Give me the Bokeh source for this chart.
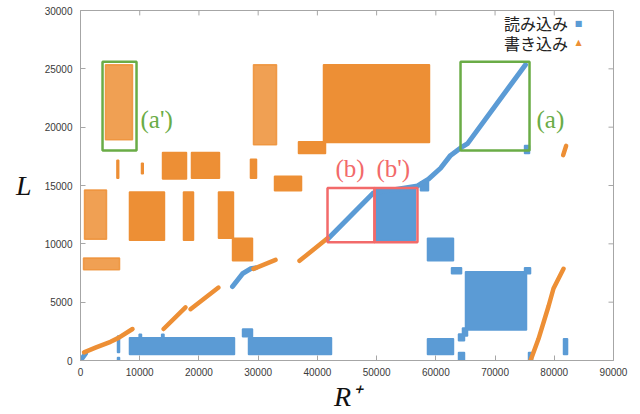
from bokeh.plotting import figure
from bokeh.models import Range1d, FixedTicker, Label
from bokeh.embed import file_html
from bokeh.resources import INLINE

# ---------------- data ----------------
x_ticks = [0, 10000, 20000, 30000, 40000, 50000, 60000, 70000, 80000, 90000]
x_tick_labels = ["0", "10000", "20000", "30000", "40000", "50000", "60000", "70000", "80000", "90000"]
y_ticks = [0, 5000, 10000, 15000, 20000, 25000, 30000]
y_tick_labels = ["0", "5000", "10000", "15000", "20000", "25000", "30000"]
x_title = "R⁺"
y_title = "L"

# read (読み込み) dense regions: x0, x1, y0, y1
read_x0 = [8270, 9900, 13700, 27360, 28370, 58590, 58590, 62650, 65010, 74980, 64500, 63830, 63830, 75650, 81560, 6250, 6250, 49810, 57410, 74980]
read_x1 = [26000, 10300, 14100, 29040, 42380, 62980, 62980, 64340, 75310, 75990, 65350, 64840, 64840, 76330, 82240, 6590, 6590, 56570, 58760, 75820]
read_y0 = [510, 1900, 1900, 2030, 510, 510, 8540, 7440, 2620, 7440, 2110, 1690, 0, 0, 510, 680, 0, 10310, 14540, 17750]
read_y1 = [1940, 2250, 2250, 2700, 1940, 1860, 10480, 7940, 7600, 7940, 2790, 2280, 680, 680, 1860, 2110, 250, 14700, 15300, 18420]

# read sequential runs
read_run_x = [
    [0, 850],
    [25670, 27360, 28700, 29550],
    [41710, 49480, 56910, 58760, 60790, 62480, 64510, 65350, 75140],
]
read_run_y = [
    [0, 590],
    [6340, 7440, 7860, 7940],
    [10400, 14370, 14960, 15550, 16480, 17580, 18340, 18590, 25350],
]

# write (書き込み) dense regions
write_x0 = [13850, 18740, 28700, 32760, 36810, 41030, 8270, 17390, 23300, 25670, 6150, 10300]
write_x1 = [17900, 23470, 29720, 37320, 41370, 58930, 14180, 19080, 25830, 29040, 6450, 10600]
write_y0 = [15550, 15630, 15630, 14540, 17750, 18680, 10310, 10310, 10480, 8540, 15630, 16000]
write_y1 = [17830, 17830, 17240, 15800, 18760, 25350, 14450, 14450, 14450, 10480, 17160, 16900]

# write sparse regions
write_sp_x0 = [4220, 29210, 680, 510]
write_sp_x1 = [8780, 33100, 4390, 6590]
write_sp_y0 = [18930, 18500, 10400, 7770]
write_sp_y1 = [25350, 25350, 14620, 8790]

# write sequential runs
write_run_x = [
    [600, 2530, 5070, 6420, 8780],
    [14020, 17730],
    [18570, 23300],
    [29210, 32930],
    [36980, 41710],
    [75990, 77340, 79030, 79870, 81560],
    [81500, 82000],
]
write_run_y = [
    [700, 1100, 1600, 1940, 2700],
    [2700, 4560],
    [4400, 6250],
    [7860, 8620],
    [8540, 10480],
    [0, 1860, 4650, 6170, 7860],
    [17600, 18400],
]

# highlighted regions
green_x0 = [3720, 64170]
green_x1 = [9460, 75820]
green_y0 = [18000, 18000]
green_y1 = [25600, 25600]
red_x0 = [41710, 49650]
red_x1 = [49650, 56900]
red_y0 = [10140, 10140]
red_y1 = [14790, 14790]

region_labels = ["(a')", "(a)", "(b)", "(b')"]
region_label_x = [10130, 77000, 43060, 49980]
region_label_y = [20700, 20700, 16480, 16480]

legend_labels = ["読み込み", "書き込み"]

# ---------------- style ----------------
BLUE = "#5b9bd5"
ORANGE = "#ed8f35"
GREEN = "#6aac46"
RED = "#f26a6a"
AXIS = "#a6a6a6"

XMIN, XMAX, YMIN, YMAX = 0, 90000, 0, 30000

p = figure(width=640, height=414, output_backend="svg", toolbar_location=None,
           x_range=Range1d(XMIN, XMAX), y_range=Range1d(YMIN, YMAX),
           min_border_left=80, min_border_right=27, min_border_top=10, min_border_bottom=49)
p.grid.visible = False
p.outline_line_color = AXIS
p.background_fill_color = "white"

for ax in (p.xaxis[0], p.yaxis[0]):
    ax.axis_line_color = AXIS
    ax.major_tick_line_color = AXIS
    ax.major_tick_in = 5
    ax.major_tick_out = 0
    ax.minor_tick_line_color = None
    ax.major_label_text_font = "Liberation Sans"
    ax.major_label_text_font_size = "10px"
    ax.major_label_text_color = "#3a3a3a"
    ax.axis_label_text_font = "Liberation Serif"
    ax.axis_label_text_font_style = "italic"
    ax.axis_label_text_font_size = "28px"
    ax.axis_label_text_color = "#111111"

p.xaxis.ticker = FixedTicker(ticks=x_ticks)
p.yaxis.ticker = FixedTicker(ticks=y_ticks)
p.xaxis.major_label_overrides = {t: s for t, s in zip(x_ticks, x_tick_labels)}
p.yaxis.major_label_overrides = {t: s for t, s in zip(y_ticks, y_tick_labels)}
p.xaxis.major_label_standoff = 7
p.yaxis.major_label_standoff = 8
p.xaxis.axis_label = x_title
p.xaxis.axis_label_standoff = 2
p.yaxis.axis_label = y_title
p.yaxis.axis_label_orientation = "horizontal"
p.yaxis.axis_label_standoff = 10

# mirrored inward ticks on top and right edges
tick_len_y = (YMAX - YMIN) * 5 / 355
tick_len_x = (XMAX - XMIN) * 5 / 533
p.segment(x0=x_ticks, x1=x_ticks, y0=[YMAX] * len(x_ticks), y1=[YMAX - tick_len_y] * len(x_ticks),
          line_color=AXIS, line_width=1)
p.segment(x0=[XMAX] * len(y_ticks), x1=[XMAX - tick_len_x] * len(y_ticks), y0=y_ticks, y1=y_ticks,
          line_color=AXIS, line_width=1)

# read
p.quad(left=read_x0, right=read_x1, bottom=read_y0, top=read_y1,
       fill_color=BLUE, line_color=BLUE, line_width=1.5)
p.multi_line(xs=read_run_x, ys=read_run_y, line_color=BLUE, line_width=5, line_cap="round", line_join="round")

# write
p.quad(left=write_sp_x0, right=write_sp_x1, bottom=write_sp_y0, top=write_sp_y1,
       fill_color=ORANGE, fill_alpha=0.85, line_color=ORANGE, line_alpha=0.85, line_width=1.5)
p.quad(left=write_x0, right=write_x1, bottom=write_y0, top=write_y1,
       fill_color=ORANGE, line_color=ORANGE, line_width=1.5)
p.multi_line(xs=write_run_x, ys=write_run_y, line_color=ORANGE, line_width=4.5, line_cap="round", line_join="round")

# boxes
p.quad(left=green_x0, right=green_x1, bottom=green_y0, top=green_y1,
       fill_color=None, line_color=GREEN, line_width=2.5)
p.quad(left=red_x0, right=red_x1, bottom=red_y0, top=red_y1,
       fill_color=None, line_color=RED, line_width=2.5)

for t, x, y in zip(region_labels, region_label_x, region_label_y):
    c = GREEN if "a" in t else RED
    p.add_layout(Label(x=x, y=y, text=t, text_color=c, text_font="Liberation Serif",
                       text_font_size="25px", text_baseline="middle", text_align="left"))

# legend
p.add_layout(Label(x=82300, y=28900, text=legend_labels[0], text_font="Noto Sans CJK JP",
                   text_font_size="16px", text_align="right", text_baseline="middle", text_color="#222222"))
p.add_layout(Label(x=82300, y=27200, text=legend_labels[1], text_font="Noto Sans CJK JP",
                   text_font_size="16px", text_align="right", text_baseline="middle", text_color="#222222"))
p.add_layout(Label(x=84100, y=28900, text="■", text_font="DejaVu Sans",
                   text_font_size="8px", text_align="center", text_baseline="middle", text_color=BLUE))
p.add_layout(Label(x=84100, y=27250, text="▲", text_font="DejaVu Sans",
                   text_font_size="8px", text_align="center", text_baseline="middle", text_color=ORANGE))

open("out.html", "w").write(file_html(p, INLINE))
